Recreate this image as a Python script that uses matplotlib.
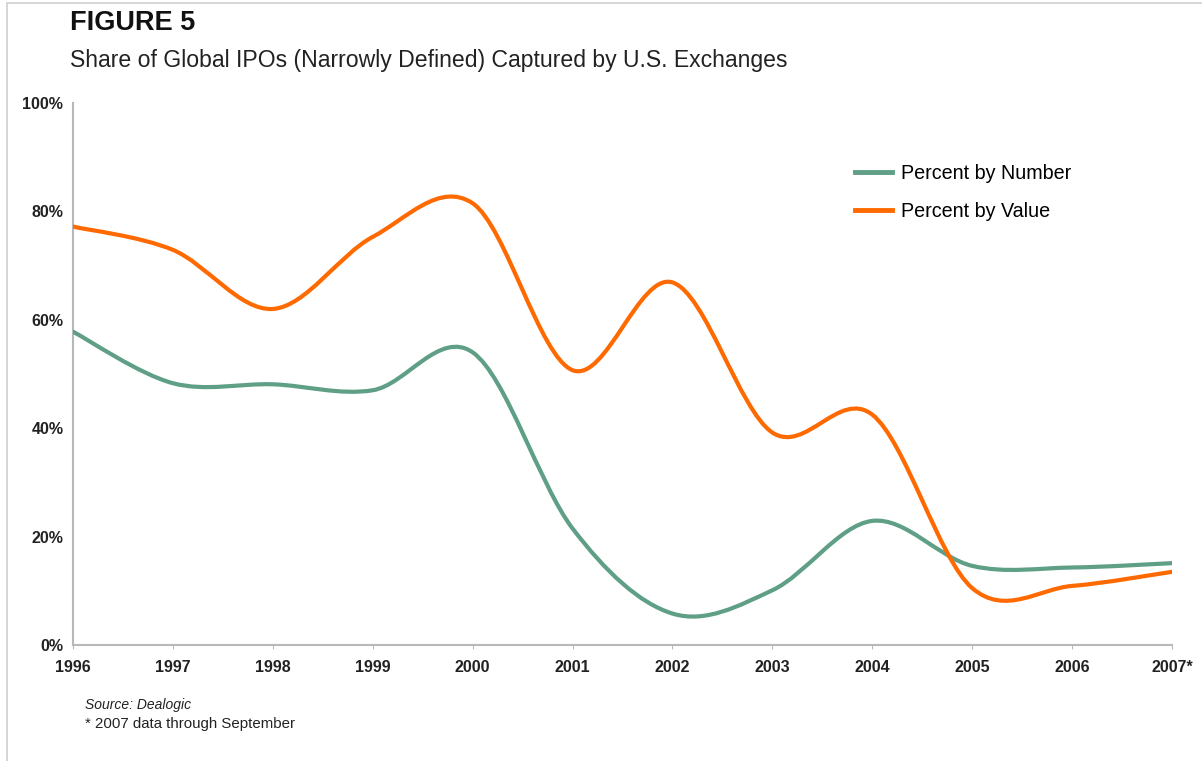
import numpy as np
import matplotlib.pyplot as plt
from matplotlib.path import Path
from matplotlib.patches import PathPatch, Rectangle
from matplotlib.lines import Line2D

plt.rcParams['font.family'] = ['Liberation Sans', 'DejaVu Sans']

years = np.arange(1996, 2008)
year_labels = ['1996', '1997', '1998', '1999', '2000', '2001', '2002',
               '2003', '2004', '2005', '2006', '2007*']
pct_number = [57.8, 48.3, 48.1, 47.0, 54.0, 21.5, 5.8, 10.1, 22.9, 14.6, 14.3, 15.1]
pct_value = [77.2, 72.9, 62.0, 75.3, 81.5, 50.7, 66.9, 39.2, 42.5, 10.5, 10.9, 13.5]

green = '#5e9f86'
orange = '#ff6a00'
axis_gray = '#b8b8b8'


def smooth_path(x, y):
    # excel-style smoothed line: cubic bezier through each point
    p = np.column_stack([x, y]).astype(float)
    n = len(p)
    verts = [p[0]]
    codes = [Path.MOVETO]
    for i in range(n - 1):
        p0 = p[i - 1] if i > 0 else p[i]
        p3 = p[i + 2] if i + 2 < n else p[i + 1]
        c1 = p[i] + (p[i + 1] - p0) / 6
        c2 = p[i + 1] - (p3 - p[i]) / 6
        verts += [c1, c2, p[i + 1]]
        codes += [Path.CURVE4] * 3
    return Path(verts, codes)


fig = plt.figure(figsize=(12.02, 7.61), dpi=100)
ax = fig.add_axes([73 / 1202, 1 - 645 / 761, (1172 - 73) / 1202, (645 - 103) / 761])

for vals, col in [(pct_number, green), (pct_value, orange)]:
    ax.add_patch(PathPatch(smooth_path(years, vals), fill=False, edgecolor=col,
                           lw=3.0, capstyle='round', joinstyle='round', zorder=3))

ax.set_xlim(1996, 2007)
ax.set_ylim(0, 100)
ax.set_xticks(years)
ax.set_xticklabels(year_labels)
ax.set_yticks([0, 20, 40, 60, 80, 100])
ax.set_yticklabels(['0%', '20%', '40%', '60%', '80%', '100%'])
ax.tick_params(axis='x', length=3, color=axis_gray, pad=8, labelsize=11.5)
ax.tick_params(axis='y', length=0, pad=7, labelsize=11.5)
for lab in ax.get_xticklabels() + ax.get_yticklabels():
    lab.set_fontweight('bold')
    lab.set_color('#222222')
for s in ['top', 'right']:
    ax.spines[s].set_visible(False)
for s in ['left', 'bottom']:
    ax.spines[s].set_color(axis_gray)
    ax.spines[s].set_linewidth(1.5)

handles = [Line2D([], [], color=green, lw=3.5), Line2D([], [], color=orange, lw=3.5)]
ax.legend(handles, ['Percent by Number', 'Percent by Value'], loc='upper left',
          bbox_to_anchor=((855 - 73) / (1172 - 73), 1 - (164 - 103) / (645 - 103)),
          frameon=False, fontsize=14.2, handlelength=1.9, handletextpad=0.45,
          labelspacing=0.95, borderaxespad=0, borderpad=0)

fig.text(70 / 1202, 1 - 23 / 761, 'FIGURE 5', fontsize=19.5, fontweight='bold',
         va='center', ha='left', color='#111111')
fig.text(70 / 1202, 1 - 60 / 761,
         'Share of Global IPOs (Narrowly Defined) Captured by U.S. Exchanges',
         fontsize=16.6, va='center', ha='left', color='#222222')
fig.text(85 / 1202, 1 - 705 / 761, 'Source: Dealogic', fontsize=10, style='italic',
         va='center', ha='left', color='#222222')
fig.text(85 / 1202, 1 - 724 / 761, '* 2007 data through September', fontsize=10.8,
         va='center', ha='left', color='#222222')

# faint frame around the figure
fig.patches.append(Rectangle((7 / 1202, -0.01), 1.02, 1 - 3 / 761 + 0.01,
                             transform=fig.transFigure, fill=False,
                             edgecolor='#cfcfcf', lw=1.2))

fig.savefig('out.png', dpi=100)
